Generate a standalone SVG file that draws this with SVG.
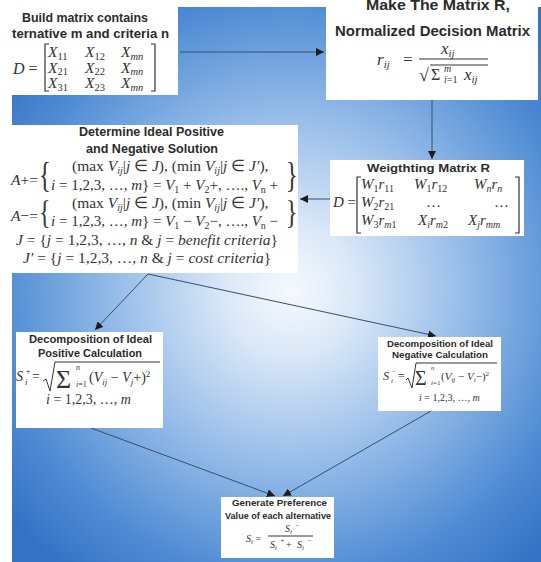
<svg xmlns="http://www.w3.org/2000/svg" width="541" height="562" viewBox="0 0 541 562">
<defs>
<radialGradient id="bg" gradientUnits="userSpaceOnUse" cx="290" cy="290" r="360">
<stop offset="0" stop-color="#f6f9fd"/>
<stop offset="0.18" stop-color="#dbe8f8"/>
<stop offset="0.5" stop-color="#93bae8"/>
<stop offset="0.8" stop-color="#508cd4"/>
<stop offset="1" stop-color="#3572c4"/>
</radialGradient>
<marker id="ah" markerUnits="userSpaceOnUse" markerWidth="9" markerHeight="8" refX="8" refY="4" orient="auto">
<path d="M0,0 L8,4 L0,8 z" fill="#1c1c1c"/>
</marker>
<style>
.box{fill:#ffffff}
.t{font-family:"Liberation Sans",Arial,sans-serif;font-weight:bold;fill:#2b2b2b}
.m{font-family:"Liberation Serif","Times New Roman",serif;font-style:italic;fill:#333333}
.r{font-style:normal}
.br{fill:none;stroke:#333333;stroke-width:1.2}
.c{fill:none;stroke:#34506f;stroke-width:1;marker-end:url(#ah)}
</style>
</defs>
<rect x="0" y="0" width="541" height="562" fill="#ffffff"/>
<rect x="12" y="7" width="529" height="555" fill="url(#bg)"/>

<g id="connectors">
<line class="c" x1="180" y1="52" x2="324" y2="52"/>
<line class="c" x1="432" y1="100" x2="432" y2="159"/>
<line class="c" x1="330" y1="199" x2="300" y2="199"/>
<line class="c" x1="148" y1="274" x2="95" y2="330"/>
<line class="c" x1="148" y1="274" x2="436" y2="336"/>
<line class="c" x1="91" y1="428" x2="275" y2="496"/>
<line class="c" x1="431" y1="411" x2="283" y2="496"/>
</g>

<g id="build">
<rect class="box" x="12" y="7" width="166" height="88"/>
<text class="t" x="22" y="22" font-size="13" textLength="126" lengthAdjust="spacingAndGlyphs">Build matrix contains</text>
<text class="t" x="12" y="38" font-size="13" textLength="157" lengthAdjust="spacingAndGlyphs">ternative m and criteria n</text>
<text class="m" x="13" y="74" font-size="16">D <tspan class="r">=</tspan></text>
<path class="br" d="M49 44 h-4 v47 h4 M151 44 h4 v47 h-4"/>
<g font-size="15.5">
<text class="m" x="48" y="57">X<tspan class="r" font-size="10.5" dy="2.5">11</tspan></text>
<text class="m" x="85" y="57">X<tspan class="r" font-size="10.5" dy="2.5">12</tspan></text>
<text class="m" x="121" y="57">X<tspan font-size="10.5" dy="2.5">mn</tspan></text>
<text class="m" x="48" y="72.5">X<tspan class="r" font-size="10.5" dy="2.5">21</tspan></text>
<text class="m" x="85" y="72.5">X<tspan class="r" font-size="10.5" dy="2.5">22</tspan></text>
<text class="m" x="121" y="72.5">X<tspan font-size="10.5" dy="2.5">mn</tspan></text>
<text class="m" x="48" y="88">X<tspan class="r" font-size="10.5" dy="2.5">31</tspan></text>
<text class="m" x="85" y="88">X<tspan class="r" font-size="10.5" dy="2.5">23</tspan></text>
<text class="m" x="121" y="88">X<tspan font-size="10.5" dy="2.5">mn</tspan></text>
</g>
</g>

<g id="normalize">
<rect class="box" x="326" y="7" width="212" height="93"/>
<text class="t" x="366" y="10" font-size="15" textLength="144" lengthAdjust="spacingAndGlyphs">Make The Matrix R,</text>
<text class="t" x="335" y="36" font-size="15" textLength="195" lengthAdjust="spacingAndGlyphs">Normalized Decision Matrix</text>
<text class="m" x="377" y="65" font-size="17">r<tspan font-size="11" dy="3">ij</tspan></text>
<text class="m r" x="403" y="65" font-size="17">=</text>
<text class="m" x="441" y="54" font-size="17">x<tspan font-size="11" dy="3">ij</tspan></text>
<line x1="419" y1="59" x2="488" y2="59" stroke="#333" stroke-width="1.2"/>
<text class="m r" x="419" y="81" font-size="18">√</text>
<line x1="430" y1="65" x2="488" y2="65" stroke="#333" stroke-width="1"/>
<text class="m r" x="431" y="80" font-size="16">Σ</text>
<text class="m" x="444" y="72" font-size="10">m</text>
<text class="m" x="444" y="83" font-size="10">i<tspan class="r">=1</tspan></text>
<text class="m" x="464" y="80" font-size="17">x<tspan font-size="11" dy="3">ij</tspan></text>
</g>

<g id="weighting">
<rect class="box" x="330" y="160" width="194" height="76"/>
<text class="t" x="367" y="172" font-size="11.5" textLength="123" lengthAdjust="spacingAndGlyphs">Weigthting Matrix R</text>
<text class="m" x="333" y="207" font-size="15">D <tspan class="r">=</tspan></text>
<path class="br" d="M361 177 h-4 v56 h4 M515 177 h4 v56 h-4"/>
<g font-size="15">
<text class="m" x="361" y="189">W<tspan class="r" font-size="10" dy="3">1</tspan><tspan dy="-3">r</tspan><tspan class="r" font-size="10" dy="3">11</tspan></text>
<text class="m" x="414" y="189">W<tspan class="r" font-size="10" dy="3">1</tspan><tspan dy="-3">r</tspan><tspan class="r" font-size="10" dy="3">12</tspan></text>
<text class="m" x="474" y="189">W<tspan font-size="10" dy="3">n</tspan><tspan dy="-3">r</tspan><tspan font-size="10" dy="3">n</tspan></text>
<text class="m" x="361" y="207">W<tspan class="r" font-size="10" dy="3">2</tspan><tspan dy="-3">r</tspan><tspan class="r" font-size="10" dy="3">21</tspan></text>
<text class="m r" x="426" y="207">…</text>
<text class="m r" x="494" y="207">…</text>
<text class="m" x="361" y="225">W<tspan class="r" font-size="10" dy="3">3</tspan><tspan dy="-3">r</tspan><tspan font-size="10" dy="3">m<tspan class="r">1</tspan></tspan></text>
<text class="m" x="418" y="225">X<tspan font-size="10" dy="3">i</tspan><tspan dy="-3">r</tspan><tspan font-size="10" dy="3">m<tspan class="r">2</tspan></tspan></text>
<text class="m" x="468" y="225">X<tspan font-size="10" dy="3">j</tspan><tspan dy="-3">r</tspan><tspan font-size="10" dy="3">mm</tspan></text>
</g>
</g>

<g id="ideal">
<rect class="box" x="12" y="125" width="286" height="148"/>
<text class="t" x="79" y="136" font-size="12" textLength="145" lengthAdjust="spacingAndGlyphs">Determine Ideal Positive</text>
<text class="t" x="86" y="153" font-size="13" textLength="132" lengthAdjust="spacingAndGlyphs">and Negative Solution</text>
<g font-size="15.5">
<text class="m" x="11" y="185">A<tspan class="r">+=</tspan></text>
<text class="m r" transform="translate(39,187) scale(0.7,1)" font-size="35">{</text>
<text class="m r" x="72" y="171">(max <tspan class="m">V</tspan><tspan font-size="10" dy="3" class="m">ij</tspan><tspan dy="-3">|</tspan><tspan class="m">j</tspan> ∈ <tspan class="m">J</tspan>), (min <tspan class="m">V</tspan><tspan font-size="10" dy="3" class="m">ij</tspan><tspan dy="-3">|</tspan><tspan class="m">j</tspan> ∈ <tspan class="m">J′</tspan>),</text>
<text class="m r" x="51" y="190" font-size="15"><tspan class="m">i</tspan> = 1,2,3, …, <tspan class="m">m</tspan>} = <tspan class="m">V</tspan><tspan font-size="10" dy="3">1</tspan><tspan dy="-3"> + </tspan><tspan class="m">V</tspan><tspan font-size="10" dy="3">2</tspan><tspan dy="-3">+, …., </tspan><tspan class="m">V</tspan><tspan font-size="10" dy="3">n</tspan><tspan dy="-3"> +</tspan></text>
<text class="m r" transform="translate(286,187) scale(0.7,1)" font-size="35">}</text>

<text class="m" x="11" y="221">A<tspan class="r">−=</tspan></text>
<text class="m r" transform="translate(39,223) scale(0.7,1)" font-size="34">{</text>
<text class="m r" x="72" y="208">(max <tspan class="m">V</tspan><tspan font-size="10" dy="3" class="m">ij</tspan><tspan dy="-3">|</tspan><tspan class="m">j</tspan> ∈ <tspan class="m">J</tspan>), (min <tspan class="m">V</tspan><tspan font-size="10" dy="3" class="m">ij</tspan><tspan dy="-3">|</tspan><tspan class="m">j</tspan> ∈ <tspan class="m">J′</tspan>),</text>
<text class="m r" x="51" y="226" font-size="15"><tspan class="m">i</tspan> = 1,2,3, …, <tspan class="m">m</tspan>} = <tspan class="m">V</tspan><tspan font-size="10" dy="3">1</tspan><tspan dy="-3"> − </tspan><tspan class="m">V</tspan><tspan font-size="10" dy="3">2</tspan><tspan dy="-3">−, …., </tspan><tspan class="m">V</tspan><tspan font-size="10" dy="3">n</tspan><tspan dy="-3"> −</tspan></text>
<text class="m r" transform="translate(286,223) scale(0.7,1)" font-size="34">}</text>

<text class="m r" x="16" y="245"><tspan class="m">J</tspan> = {<tspan class="m">j</tspan> = 1,2,3, …, <tspan class="m">n</tspan> &amp; <tspan class="m">j</tspan> = <tspan class="m">benefit criteria</tspan>}</text>
<text class="m r" x="23" y="263"><tspan class="m">J′</tspan> = {<tspan class="m">j</tspan> = 1,2,3, …, <tspan class="m">n</tspan> &amp; <tspan class="m">j</tspan> = <tspan class="m">cost criteria</tspan>}</text>
</g>
</g>

<g id="positive">
<rect class="box" x="16" y="332" width="147" height="96"/>
<text class="t" x="29" y="343" font-size="11" textLength="123" lengthAdjust="spacingAndGlyphs">Decomposition of Ideal</text>
<text class="t" x="38" y="357" font-size="11" textLength="104" lengthAdjust="spacingAndGlyphs">Positive Calculation</text>
<text class="m" x="16" y="381" font-size="14">S</text>
<text class="m" x="25" y="374" font-size="9">+</text>
<text class="m" x="25" y="385" font-size="9">i</text>
<text class="m r" x="32" y="381" font-size="14">=</text>
<path d="M43 381 l3 -2 l4 12 l5 -29 h105" fill="none" stroke="#333" stroke-width="1"/>
<text class="m r" x="56" y="388" font-size="26">Σ</text>
<text class="m" x="76" y="370" font-size="8">n</text>
<text class="m" x="76" y="387" font-size="8">i<tspan class="r">=1</tspan></text>
<text class="m r" x="89" y="382" font-size="14">(<tspan class="m">V</tspan><tspan class="m" font-size="9" dy="3">ij</tspan><tspan dy="-3"> − </tspan><tspan class="m">V</tspan><tspan class="m" font-size="9" dy="3">j</tspan><tspan dy="-3">+)</tspan><tspan font-size="9" dy="-5">2</tspan></text>
<text class="m r" x="46" y="404" font-size="14"><tspan class="m">i</tspan> = 1,2,3, …, <tspan class="m">m</tspan></text>
</g>

<g id="negative">
<rect class="box" x="378" y="337" width="123" height="74"/>
<text class="t" x="387" y="347" font-size="9.5" textLength="106" lengthAdjust="spacingAndGlyphs">Decomposition of Ideal</text>
<text class="t" x="392" y="358" font-size="9.5" textLength="96" lengthAdjust="spacingAndGlyphs">Negative Calculation</text>
<text class="m" x="383" y="380" font-size="12">S</text>
<text class="m" x="391" y="374" font-size="7">−</text>
<text class="m" x="391" y="383" font-size="7">i</text>
<text class="m r" x="398" y="380" font-size="12">=</text>
<path d="M406 380 l2 -2 l4 10 l4 -25 h81" fill="none" stroke="#333" stroke-width="1"/>
<text class="m r" x="415" y="385" font-size="20">Σ</text>
<text class="m" x="431" y="370" font-size="7">n</text>
<text class="m" x="431" y="385" font-size="7">i<tspan class="r">=1</tspan></text>
<text class="m r" x="441" y="380" font-size="11">(<tspan class="m">V</tspan><tspan class="m" font-size="7" dy="2">ij</tspan><tspan dy="-2"> − </tspan><tspan class="m">V</tspan><tspan class="m" font-size="7" dy="2">i</tspan><tspan dy="-2">−)</tspan><tspan font-size="7" dy="-4">2</tspan></text>
<text class="m r" x="419" y="401" font-size="10"><tspan class="m">i</tspan> = 1,2,3, …, <tspan class="m">m</tspan></text>
</g>

<g id="preference">
<rect class="box" x="221" y="497" width="113" height="61"/>
<text class="t" x="232" y="506" font-size="9.5" textLength="95" lengthAdjust="spacingAndGlyphs">Generate Preference</text>
<text class="t" x="225" y="519" font-size="9.5" textLength="106" lengthAdjust="spacingAndGlyphs">Value of each alternative</text>
<text class="m" x="246" y="542" font-size="10">S<tspan font-size="7" dy="2">i</tspan><tspan class="r" dy="-2"> =</tspan></text>
<text class="m" x="285" y="532" font-size="10">S<tspan font-size="7" dy="2">i</tspan></text>
<text class="m" x="295" y="528" font-size="7">−</text>
<line x1="268" y1="536" x2="313" y2="536" stroke="#333" stroke-width="1"/>
<text class="m" x="270" y="548" font-size="10">S<tspan font-size="7" dy="2">i</tspan></text>
<text class="m" x="280" y="543" font-size="7">+</text>
<text class="m r" x="286" y="548" font-size="10">+</text>
<text class="m" x="297" y="548" font-size="10">S<tspan font-size="7" dy="2">i</tspan></text>
<text class="m" x="307" y="543" font-size="7">−</text>
</g>
</svg>
